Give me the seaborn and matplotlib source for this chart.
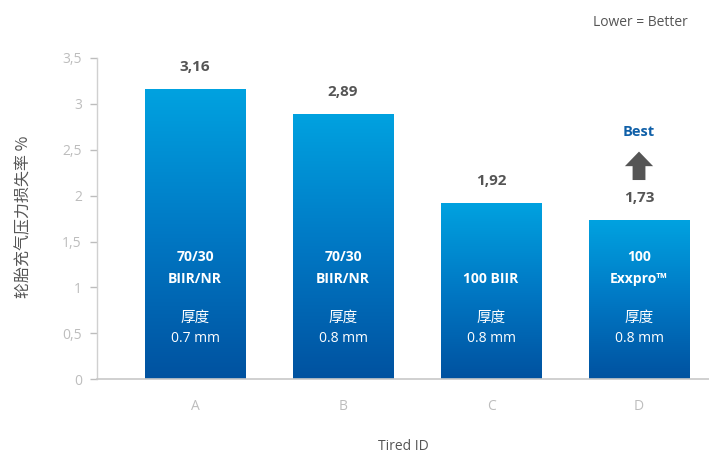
import numpy as np
import pandas as pd
import matplotlib
matplotlib.use("Agg")
import matplotlib.pyplot as plt
from matplotlib.colors import LinearSegmentedColormap
import seaborn as sns

# 数据
tires = ["A", "B", "C", "D"]
loss_rate = [3.16, 2.89, 1.92, 1.73]
value_labels = ["3,16", "2,89", "1,92", "1,73"]
material_top = ["70/30", "70/30", "", "100"]
material_bottom = ["BIIR/NR", "BIIR/NR", "100 BIIR", "Exxpro™"]
thickness = ["0.7 mm", "0.8 mm", "0.8 mm", "0.8 mm"]
y_ticks = [0, 0.5, 1, 1.5, 2, 2.5, 3, 3.5]
y_tick_labels = ["0", "0,5", "1", "1,5", "2", "2,5", "3", "3,5"]

df = pd.DataFrame({"Tire": tires, "Loss": loss_rate})

sns.set_style("white")
plt.rcParams["font.family"] = ["Open Sans", "Noto Sans CJK SC", "DejaVu Sans"]
cjk = ["Noto Sans CJK SC", "DejaVu Sans"]

fig = plt.figure(figsize=(7.09, 4.53), dpi=100)
ax = fig.add_axes([0.137, 0.163, 0.863, 0.709])

sns.barplot(data=df, x="Tire", y="Loss", width=0.68, ax=ax, color="#0080c8")

# 渐变填充
cmap = LinearSegmentedColormap.from_list("blu", ["#0052a0", "#0078c4", "#00a2e0"])
grad = np.linspace(0, 1, 256).reshape(-1, 1)
for p in ax.patches:
    x0, y0 = p.get_x(), p.get_y()
    w, h = p.get_width(), p.get_height()
    im = ax.imshow(grad, extent=[x0, x0 + w, y0, y0 + h], origin="lower",
                   cmap=cmap, aspect="auto", zorder=2)
    im.set_clip_path(p)
    p.set_facecolor("none")
    p.set_edgecolor("none")

ax.set_xlim(-0.662, 3.473)
ax.set_ylim(0, 3.5)
ax.set_yticks(y_ticks)
ax.set_yticklabels(y_tick_labels)

for s in ["top", "right"]:
    ax.spines[s].set_visible(False)
ax.spines["left"].set_color("#d0d0d0")
ax.spines["bottom"].set_color("#c8c8c8")
ax.spines["left"].set_linewidth(1.0)
ax.spines["bottom"].set_linewidth(1.2)
ax.tick_params(axis="y", colors="#bdbdbd", labelsize=10, length=5, width=1,
               direction="out", left=True, pad=6)
ax.tick_params(axis="x", colors="#bdbdbd", labelsize=10, length=0, pad=14)
for lab in ax.get_yticklabels():
    lab.set_color("#bdbdbd")

ax.set_xlabel("Tired ID", fontsize=10, color="#555555", va="center")
ax.xaxis.set_label_coords(0.5, -0.209)
ax.set_ylabel("轮胎充气压力损失率 %", fontsize=11.5, color="#555555",
              family=cjk, va="center")
ax.yaxis.set_label_coords(-0.12, 0.505)

for i in range(len(tires)):
    ax.text(i, loss_rate[i] + 0.24, value_labels[i], ha="center", va="center",
            fontsize=11, fontweight="bold", color="#555555", zorder=5)
    if material_top[i]:
        ax.text(i, 1.33, material_top[i], ha="center", va="center",
                fontsize=10, fontweight="bold", color="white", zorder=5)
    ax.text(i, 1.09, material_bottom[i], ha="center", va="center",
            fontsize=10, fontweight="bold", color="white", zorder=5)
    ax.text(i, 0.665, "厚度", ha="center", va="center", family=cjk,
            fontsize=10.5, color="white", zorder=5)
    ax.text(i, 0.447, thickness[i], ha="center", va="center",
            fontsize=10, color="white", zorder=5)

# Best 箭头
ax.annotate("", xy=(3, 2.48), xytext=(3, 2.17),
            arrowprops=dict(arrowstyle="simple,head_length=0.75,head_width=1.45,tail_width=0.66",
                            mutation_scale=14, color="#555555", lw=0,
                            shrinkA=0, shrinkB=0), zorder=5)
ax.text(3, 2.69, "Best", ha="center", va="center", fontsize=10.5,
        fontweight="bold", color="#1060a8")

fig.text(0.903, 0.951, "Lower = Better", ha="center", va="center",
         fontsize=10, color="#555555")

fig.savefig("out.png", dpi=100)
